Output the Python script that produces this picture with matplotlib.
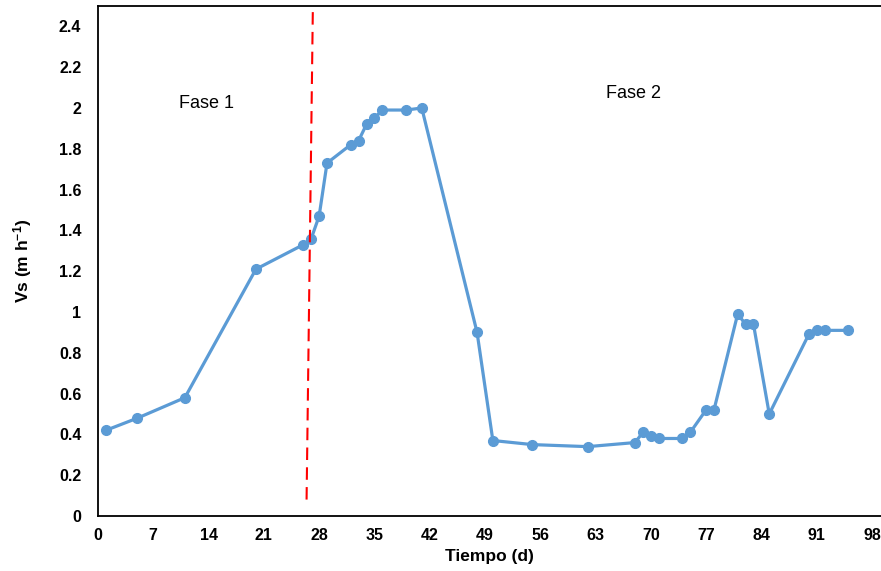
import matplotlib.pyplot as plt

plt.rcParams['font.family'] = ['Liberation Sans', 'DejaVu Sans']
plt.rcParams['mathtext.fontset'] = 'custom'
plt.rcParams['mathtext.rm'] = 'Liberation Sans:bold'
plt.rcParams['mathtext.default'] = 'rm'

# days and settling velocity
dias = [1, 5, 11, 20, 26, 27, 28, 29, 32, 33, 34, 35, 36, 39, 41,
        48, 50, 55, 62, 68, 69, 70, 71, 74, 75, 77, 78, 81, 82, 83, 85,
        90, 91, 92, 95]
vs = [0.42, 0.48, 0.58, 1.21, 1.33, 1.36, 1.47, 1.73, 1.82, 1.84, 1.92, 1.95, 1.99, 1.99, 2.00,
      0.90, 0.37, 0.35, 0.34, 0.36, 0.41, 0.39, 0.38, 0.38, 0.41, 0.52, 0.52, 0.99, 0.94, 0.94, 0.50,
      0.89, 0.91, 0.91, 0.91]

# phase separator
sep_x = [27.2, 26.4]
sep_y = [2.47, 0.045]

xticks = list(range(0, 99, 7))
yticks = [0, 0.2, 0.4, 0.6, 0.8, 1, 1.2, 1.4, 1.6, 1.8, 2, 2.2, 2.4]
ylabels = ['0', '0.2', '0.4', '0.6', '0.8', '1', '1.2', '1.4', '1.6', '1.8', '2', '2.2', '2.4']

fig = plt.figure(figsize=(8.81, 5.71), dpi=100)
ax = fig.add_axes([98/881, 1 - 516/571, 1 - 98/881, 510/571])

ax.plot(dias, vs, '-o', color='#5B9BD5', lw=2.3, markersize=7)
ax.plot(sep_x, sep_y, color='#FF0000', lw=1.5, dashes=(6, 3.5))

ax.text(13.8, 2.02, 'Fase 1', fontsize=13, ha='center', va='center')
ax.text(67.8, 2.07, 'Fase 2', fontsize=13, ha='center', va='center')

ax.set_xlim(0, 99.15)
ax.set_ylim(0, 2.5)
ax.set_xticks(xticks)
ax.set_yticks(yticks)
ax.set_yticklabels(ylabels)
ax.tick_params(length=0, labelsize=11.5)
ax.tick_params(axis='x', pad=9)
ax.tick_params(axis='y', pad=12)
for lab in ax.get_xticklabels() + ax.get_yticklabels():
    lab.set_fontweight('bold')

ax.spines['right'].set_visible(False)
for s in ['left', 'bottom', 'top']:
    ax.spines[s].set_linewidth(1.3)
    ax.spines[s].set_color('black')

ax.set_xlabel('Tiempo (d)', fontsize=12.5, fontweight='bold', labelpad=4)
ax.set_ylabel('Vs (m h$^{-1}$)', fontsize=12.5, fontweight='bold', labelpad=18)

fig.savefig('out.png', dpi=100)
